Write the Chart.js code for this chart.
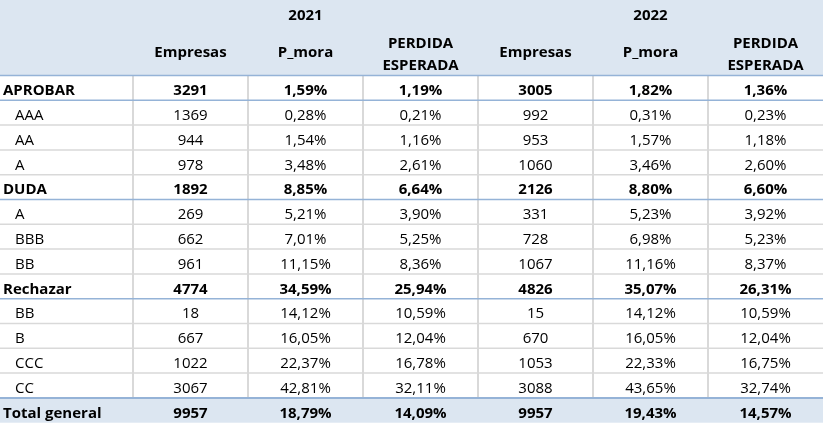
<!DOCTYPE html>
<html><head><meta charset="utf-8">
<script src="https://cdn.jsdelivr.net/npm/chart.js@4"></script>
<style>html,body{margin:0;padding:0;background:#fff;overflow:hidden}</style>
</head><body>
<canvas id="c" width="823" height="425"></canvas>
<script>
// ---- data ----
const years = ['2021', '2022'];
const measureHeaders = ['Empresas', 'P_mora', 'PERDIDA ESPERADA'];
const rowLabels = ['APROBAR','AAA','AA','A','DUDA','A','BBB','BB','Rechazar','BB','B','CCC','CC','Total general'];
const rowIsGroup = [true,false,false,false,true,false,false,false,true,false,false,false,false,true];
const empresas2021 = [3291,1369,944,978,1892,269,662,961,4774,18,667,1022,3067,9957];
const pmora2021    = [1.59,0.28,1.54,3.48,8.85,5.21,7.01,11.15,34.59,14.12,16.05,22.37,42.81,18.79];
const perdida2021  = [1.19,0.21,1.16,2.61,6.64,3.90,5.25,8.36,25.94,10.59,12.04,16.78,32.11,14.09];
const empresas2022 = [3005,992,953,1060,2126,331,728,1067,4826,15,670,1053,3088,9957];
const pmora2022    = [1.82,0.31,1.57,3.46,8.80,5.23,6.98,11.16,35.07,14.12,16.05,22.33,43.65,19.43];
const perdida2022  = [1.36,0.23,1.18,2.60,6.60,3.92,5.23,8.37,26.31,10.59,12.04,16.75,32.74,14.57];

// ---- styling ----
const FONT = '"Open Sans", Lato, sans-serif';
const FS = 15;
const CAP = 0.714 * FS;
const HEADER_BG = '#DCE6F1';
const BLUE_LINE = '#95B3D7';
const GRAY_LINE = '#D9D9D9';
const TEXT = '#000000';

const columns = [
  { values: empresas2021, kind: 'int' },
  { values: pmora2021, kind: 'pct' },
  { values: perdida2021, kind: 'pct' },
  { values: empresas2022, kind: 'int' },
  { values: pmora2022, kind: 'pct' },
  { values: perdida2022, kind: 'pct' }
];

function fmt(v, kind) {
  return kind === 'pct' ? v.toFixed(2).replace('.', ',') + '%' : String(v);
}

const datasets = [{
  label: 'labels',
  data: rowLabels.map((l, r) => ({ x: 0, y: r, txt: l })),
  pointRadius: 0
}].concat(columns.map((c, i) => ({
  label: 'col' + (i + 1),
  data: c.values.map((v, r) => ({ x: i + 1, y: r, txt: fmt(v, c.kind) })),
  pointRadius: 0
})));

const tablePlugin = {
  id: 'table',
  beforeDatasetsDraw(chart) {
    const ctx = chart.ctx, xs = chart.scales.x, ys = chart.scales.y;
    const L = chart.chartArea.left, R = chart.chartArea.right;
    const n = rowLabels.length;
    ctx.save();
    const yTop = chart.chartArea.top;
    const yHead = ys.getPixelForValue(-0.5);
    ctx.fillStyle = HEADER_BG;
    ctx.fillRect(L, yTop, R - L, yHead - yTop);
    const yTot0 = ys.getPixelForValue(n - 1.5), yTot1 = ys.getPixelForValue(n - 0.5);
    ctx.fillRect(L, yTot0, R - L, yTot1 - yTot0);
    ctx.strokeStyle = GRAY_LINE;
    ctx.lineWidth = 2;
    for (let i = 1; i <= 6; i++) {
      const x = Math.round(xs.getPixelForValue(i - 0.5));
      ctx.beginPath();
      ctx.moveTo(x, yHead);
      ctx.lineTo(x, yTot0);
      ctx.stroke();
    }
    for (let r = 1; r < n - 1; r++) {
      if (rowIsGroup[r - 1]) continue;
      const y = ys.getPixelForValue(r - 0.5);
      ctx.strokeStyle = GRAY_LINE; ctx.lineWidth = 1.5;
      ctx.beginPath(); ctx.moveTo(L, y); ctx.lineTo(R, y); ctx.stroke();
    }
    for (let r = 0; r < n; r++) {
      const blue = r === 0 || rowIsGroup[r - 1] || r === n - 1;
      if (!blue) continue;
      const y = ys.getPixelForValue(r - 0.5);
      ctx.strokeStyle = BLUE_LINE; ctx.lineWidth = r === n - 1 ? 2 : 1.5;
      ctx.beginPath(); ctx.moveTo(L, y); ctx.lineTo(R, y); ctx.stroke();
    }
    ctx.restore();
  },
  afterDatasetsDraw(chart) {
    const ctx = chart.ctx, xs = chart.scales.x, ys = chart.scales.y;
    const L = chart.chartArea.left;
    ctx.save();
    ctx.fillStyle = TEXT;
    ctx.textBaseline = 'alphabetic';
    ctx.font = 'bold ' + FS + 'px ' + FONT;
    ctx.textAlign = 'center';
    const base = (yPix) => yPix + CAP / 2;
    years.forEach((yr, k) => {
      ctx.fillText(yr, xs.getPixelForValue(2 + 3 * k), base(ys.getPixelForValue(-2.94)));
      measureHeaders.forEach((h, m) => {
        const x = xs.getPixelForValue(1 + m + 3 * k);
        const parts = h.split(' ');
        if (parts.length === 1) {
          ctx.fillText(h, x, base(ys.getPixelForValue(-1.448)));
        } else {
          ctx.fillText(parts[0], x, base(ys.getPixelForValue(-1.843)));
          ctx.fillText(parts[1], x, base(ys.getPixelForValue(-0.944)));
        }
      });
    });
    chart.data.datasets.forEach((ds, di) => {
      const meta = chart.getDatasetMeta(di);
      meta.data.forEach((el, r) => {
        const bold = rowIsGroup[r];
        ctx.font = (bold ? 'bold ' : '') + FS + 'px ' + FONT;
        const txt = ds.data[r].txt;
        const y = base(el.y + 2);
        if (di === 0) {
          ctx.textAlign = 'left';
          ctx.fillText(txt, L + (bold ? 3 : 15), y);
        } else {
          ctx.textAlign = 'center';
          ctx.fillText(txt, el.x, y);
        }
      });
    });
    ctx.restore();
  }
};

new Chart(document.getElementById('c'), {
  type: 'scatter',
  data: { datasets },
  options: {
    responsive: false,
    animation: false,
    events: [],
    layout: { padding: 0 },
    plugins: { legend: { display: false }, tooltip: { enabled: false } },
    scales: {
      x: { type: 'linear', display: false, min: -0.6565, max: 6.5 },
      y: { type: 'linear', display: false, reverse: true, min: -3.544, max: 13.593 }
    }
  },
  plugins: [tablePlugin]
});
</script>
</body></html>
